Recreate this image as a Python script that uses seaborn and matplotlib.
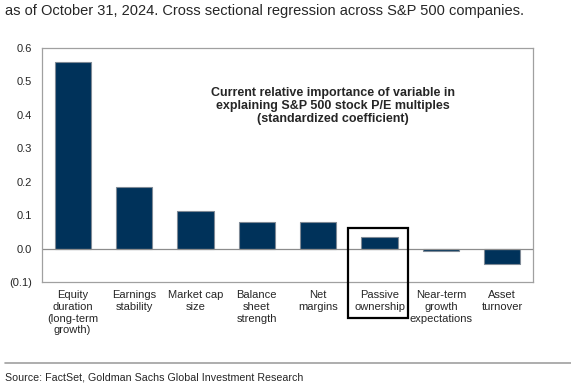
import matplotlib
matplotlib.use("Agg")
import matplotlib.pyplot as plt
import seaborn as sns
import pandas as pd
from matplotlib.patches import Rectangle
from matplotlib.lines import Line2D

# data
categories = ["Equity\nduration\n(long-term\ngrowth)", "Earnings\nstability", "Market cap\nsize",
              "Balance\nsheet\nstrength", "Net\nmargins", "Passive\nownership",
              "Near-term\ngrowth\nexpectations", "Asset\nturnover"]
coefficients = [0.559, 0.185, 0.111, 0.079, 0.078, 0.035, -0.007, -0.046]
yticks = [-0.1, 0.0, 0.1, 0.2, 0.3, 0.4, 0.5, 0.6]
ytick_labels = ["(0.1)", "0.0", "0.1", "0.2", "0.3", "0.4", "0.5", "0.6"]

df = pd.DataFrame({"variable": categories, "coef": coefficients})

sns.set_style("white")
plt.rcParams['font.family'] = ['Liberation Sans', 'DejaVu Sans']

W, H = 571, 388
fig = plt.figure(figsize=(W / 100, H / 100), dpi=100)
ax = fig.add_axes([42 / W, 1 - 282 / H, (533 - 42) / W, (282 - 48) / H])

navy = "#00325A"
sns.barplot(data=df, x="variable", y="coef", color=navy, width=0.59,
            edgecolor="#7F8A96", linewidth=0.8, saturation=1, ax=ax)

ax.set_ylim(-0.1, 0.6)
ax.set_xlim(-0.5, len(categories) - 0.5)
ax.set_yticks(yticks)
ax.set_yticklabels(ytick_labels, fontsize=8)
ax.tick_params(axis="y", length=0, pad=7)
ax.tick_params(axis="x", length=0, pad=6, labelsize=8)
ax.set_xlabel("")
ax.set_ylabel("")
ax.axhline(0, color="#8C8C8C", linewidth=0.9, zorder=1)
for sp in ax.spines.values():
    sp.set_color("#A0A0A0")
    sp.set_linewidth(0.9)

ax.text(0.593, 0.752, "Current relative importance of variable in\nexplaining S&P 500 stock P/E multiples\n(standardized coefficient)",
        transform=ax.transAxes, ha="center", va="center", fontsize=9,
        fontweight="bold", linespacing=1.1)

# highlight box around passive ownership
fig.patches.append(Rectangle((348 / W, 1 - 318 / H), 60 / W, 90 / H, transform=fig.transFigure,
                             fill=False, edgecolor="black", linewidth=1.6))

fig.text(5 / W, 1 - 11 / H, "as of October 31, 2024. Cross sectional regression across S&P 500 companies.",
         ha="left", va="center", fontsize=10.5)
fig.lines.append(Line2D([5 / W, 1.0], [1 - 363 / H, 1 - 363 / H], transform=fig.transFigure,
                        color="#A0A0A0", linewidth=1.2))
fig.text(5 / W, 1 - 377 / H, "Source: FactSet, Goldman Sachs Global Investment Research",
         ha="left", va="center", fontsize=7.7)

fig.savefig("out.png", dpi=100)
